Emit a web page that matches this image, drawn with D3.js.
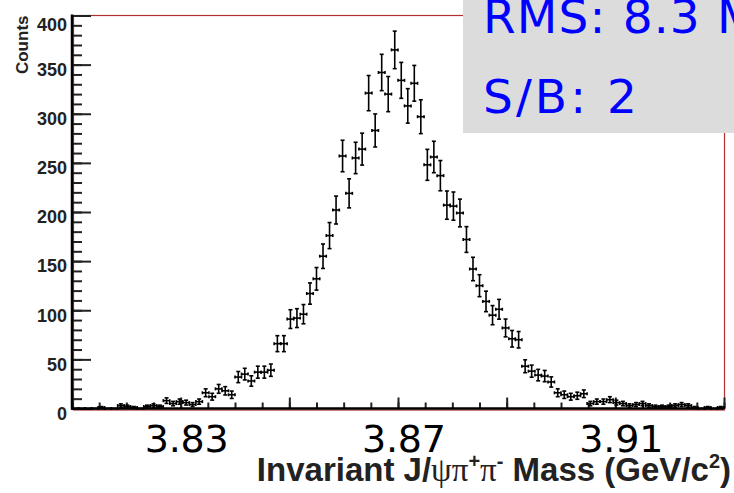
<!DOCTYPE html>
<html>
<head>
<meta charset="utf-8">
<script src="https://cdn.jsdelivr.net/npm/d3@7/dist/d3.min.js"></script>
<style>
  html, body { margin: 0; padding: 0; background: #fff; }
  svg { display: block; }
</style>
</head>
<body>
<svg id="chart" width="734" height="493"></svg>
<script>
// Histogram of the J/psi pi+ pi- invariant mass: 100 bins of 1.2 MeV from 3.81 to 3.93 GeV/c^2
const massRange = [3.81, 3.93];
const binCount = 100;
const counts = [
  0, 0, 0, 0, 1, 0, 0, 3, 2, 1,
  0, 2, 3, 2, 8, 5, 7, 6, 4, 7,
  16, 12, 20, 18, 14, 32, 35, 28, 37, 37,
  39, 66, 66, 91, 92, 96, 117, 132, 155, 176,
  202, 257, 219, 255, 264, 321, 283, 342, 320, 365,
  334, 308, 331, 297, 248, 256, 237, 207, 206, 199,
  172, 142, 125, 109, 95, 101, 82, 71, 70, 43,
  38, 34, 33, 27, 16, 14, 12, 13, 15, 5,
  7, 7, 9, 6, 5, 3, 4, 5, 3, 2,
  2, 2, 3, 4, 3, 1, 0, 1, 0, 1
];
const yTickLabels = [0, 50, 100, 150, 200, 250, 300, 350, 400];
const xTickLabels = [3.83, 3.87, 3.91];
const statLines = ["RMS: 8.3 MeV", "S/B: 2"];

const svg = d3.select("#chart");
const plot = { left: 72, right: 724, top: 15.5, bottom: 408.5 };

const x = d3.scaleLinear().domain(massRange).range([plot.left, plot.right]);
const y = d3.scaleLinear().domain([0, 400]).range([plot.bottom, plot.top]);
const binWidth = (massRange[1] - massRange[0]) / binCount;

const bins = counts.map((n, i) => ({
  lo: massRange[0] + i * binWidth,
  hi: massRange[0] + (i + 1) * binWidth,
  n: n,
  err: Math.sqrt(n)
}));

// frame
svg.append("rect")
  .attr("x", plot.left + 1.5).attr("y", plot.top)
  .attr("width", plot.right - plot.left - 1).attr("height", plot.bottom - plot.top + 1.5)
  .attr("fill", "none").attr("stroke", "#b03030").attr("stroke-width", 1.2);

// y axis ticks (inside the frame)
const yMinor = svg.append("g").attr("transform", `translate(${plot.left},0)`)
  .call(d3.axisRight(y).tickValues(d3.range(0, 401, 10)).tickSize(10).tickFormat(""));
const yMajor = svg.append("g").attr("transform", `translate(${plot.left},0)`)
  .call(d3.axisRight(y).tickValues(yTickLabels).tickSize(19).tickFormat(""));
[yMinor, yMajor].forEach(g => {
  g.select(".domain").remove();
  g.selectAll("line").attr("stroke", "#222").attr("stroke-width", 2);
});

// y tick labels
const yLab = svg.append("g").attr("transform", `translate(${plot.left},0)`)
  .call(d3.axisLeft(y).tickValues(yTickLabels).tickSize(0).tickPadding(5).tickFormat(d3.format("d")));
yLab.select(".domain").remove();
yLab.selectAll("text")
  .attr("font-family", "'Liberation Sans', Arial, sans-serif")
  .attr("font-weight", "bold").attr("font-size", 18).attr("fill", "#222")
  .attr("dy", d => d === 400 ? "0.85em" : "0.6em");

// x axis ticks (pointing up)
const xMinor = svg.append("g").attr("transform", `translate(0,${plot.bottom})`)
  .call(d3.axisTop(x).tickValues(d3.range(0, 25).map(k => 3.81 + k * 0.005)).tickSize(6).tickFormat(""));
const xMajor = svg.append("g").attr("transform", `translate(0,${plot.bottom})`)
  .call(d3.axisTop(x).tickValues(d3.range(0, 7).map(k => 3.81 + k * 0.02)).tickSize(11).tickFormat(""));
[xMinor, xMajor].forEach(g => {
  g.select(".domain").remove();
  g.selectAll("line").attr("stroke", "#222").attr("stroke-width", 2);
});

// axis lines
svg.append("line").attr("x1", plot.left).attr("x2", plot.left)
  .attr("y1", plot.top - 1).attr("y2", plot.bottom + 1)
  .attr("stroke", "#000").attr("stroke-width", 2.5);
svg.append("line").attr("x1", plot.left).attr("x2", plot.right)
  .attr("y1", plot.bottom).attr("y2", plot.bottom)
  .attr("stroke", "#000").attr("stroke-width", 2.5);

// y title
svg.append("text")
  .attr("transform", `translate(28,${plot.top}) rotate(-90)`)
  .attr("text-anchor", "end")
  .attr("font-family", "'Liberation Sans', Arial, sans-serif")
  .attr("font-weight", "bold").attr("font-size", 17).attr("fill", "#222")
  .text("Counts");

// data points with sqrt(N) errors
const pts = svg.append("g").attr("stroke", "#000").attr("stroke-width", 1.6).attr("fill", "none");
bins.forEach(b => {
  const g = pts.append("g");
  const cx = x((b.lo + b.hi) / 2), cy = y(b.n);
  g.append("line").attr("x1", x(b.lo)).attr("x2", x(b.hi)).attr("y1", cy).attr("y2", cy);
  g.append("line").attr("x1", x(b.lo)).attr("x2", x(b.lo)).attr("y1", cy - 1.5).attr("y2", cy + 1.5);
  g.append("line").attr("x1", x(b.hi)).attr("x2", x(b.hi)).attr("y1", cy - 1.5).attr("y2", cy + 1.5);
  if (b.n > 0) {
    const yt = y(b.n + b.err), yb = y(b.n - b.err);
    g.append("line").attr("x1", cx).attr("x2", cx).attr("y1", yt).attr("y2", yb);
    g.append("line").attr("x1", cx - 2).attr("x2", cx + 2).attr("y1", yt).attr("y2", yt);
    g.append("line").attr("x1", cx - 2).attr("x2", cx + 2).attr("y1", yb).attr("y2", yb);
  }
});

// large x tick labels
svg.append("g").selectAll("text").data(xTickLabels).join("text")
  .attr("x", d => x(d) + 6).attr("y", 452)
  .attr("text-anchor", "middle")
  .attr("font-family", "'DejaVu Sans', Verdana, sans-serif")
  .attr("font-size", 38).attr("fill", "#000")
  .attr("textLength", 84).attr("lengthAdjust", "spacing")
  .text(d => d3.format(".2f")(d));

// x title
const xt = svg.append("text")
  .attr("x", 731).attr("y", 481).attr("text-anchor", "end")
  .attr("font-family", "'Liberation Sans', Arial, sans-serif")
  .attr("font-weight", "bold").attr("font-size", 33).attr("fill", "#222");
xt.append("tspan").text("Invariant J/");
xt.append("tspan").attr("font-family", "'Liberation Serif', 'DejaVu Serif', serif").attr("font-weight", "normal").text("ψπ");
xt.append("tspan").attr("font-size", 20).attr("dy", -13).text("+");
xt.append("tspan").attr("font-family", "'Liberation Serif', 'DejaVu Serif', serif").attr("font-weight", "normal").attr("dy", 13).text("π");
xt.append("tspan").attr("font-size", 20).attr("dy", -13).text("-");
xt.append("tspan").attr("dy", 13).text(" Mass (GeV/c");
xt.append("tspan").attr("font-size", 20).attr("dy", -13).text("2");
xt.append("tspan").attr("dy", 13).text(")");

// statistics box
const box = svg.append("g");
box.append("rect").attr("x", 463).attr("y", -2).attr("width", 300).attr("height", 135)
  .attr("fill", "#dcdcdc");
const statLength = [338, 154];
box.selectAll("text").data(statLines).join("text")
  .attr("x", 483).attr("y", (d, i) => 33 + i * 79.5)
  .attr("font-family", "'DejaVu Sans', Verdana, sans-serif")
  .attr("font-size", 47).attr("fill", "#0000ff")
  .attr("textLength", (d, i) => statLength[i]).attr("lengthAdjust", "spacing")
  .text(d => d);
</script>
</body>
</html>
